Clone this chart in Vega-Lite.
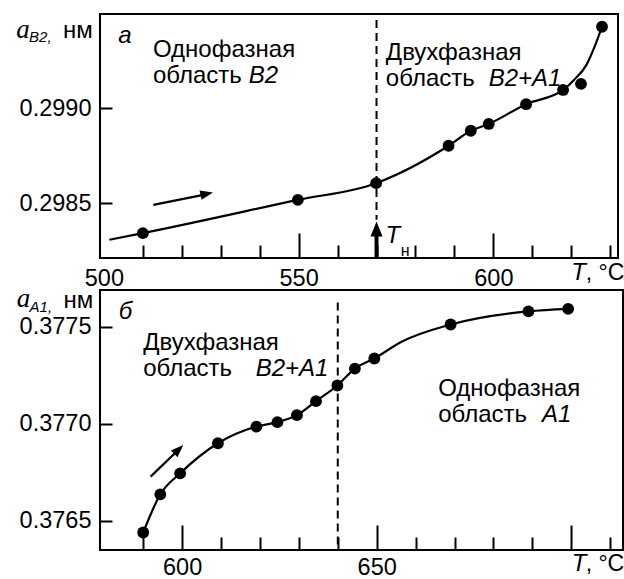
{
  "$schema": "https://vega.github.io/schema/vega-lite/v6.json",
  "padding": {"left": 15, "top": 13, "right": 0, "bottom": 2},
  "background": "white",
  "config": {
    "view": {"stroke": "black", "strokeWidth": 2},
    "axis": {"domain": false, "grid": false, "labelFont": "Liberation Sans", "labelFontSize": 23.5, "labelColor": "black", "tickColor": "black", "tickWidth": 2, "labelOverlap": false, "title": null},
    "text": {"font": "Liberation Sans", "fontSize": 24, "align": "left", "baseline": "alphabetic", "color": "black"}
  },
  "spacing": 32,
  "bounds": "flush",
  "vconcat": [
    {
      "width": 518,
      "height": 244,
      "layer": [
        {
          "data": {"values": [
            {"T": 501.4, "a": 0.298307}, {"T": 510, "a": 0.298342}, {"T": 549.8, "a": 0.298517},
            {"T": 569.9, "a": 0.298605}, {"T": 588.5, "a": 0.298802}, {"T": 594.2, "a": 0.298881},
            {"T": 598.8, "a": 0.298917}, {"T": 608.4, "a": 0.299021}, {"T": 617.9, "a": 0.299096},
            {"T": 620.7, "a": 0.299149}, {"T": 623.9, "a": 0.299228}, {"T": 626.0, "a": 0.299324},
            {"T": 627.9, "a": 0.299429}
          ]},
          "mark": {"type": "line", "interpolate": "monotone", "color": "black", "strokeWidth": 2.2},
          "encoding": {
            "x": {"field": "T", "type": "quantitative", "title": null,
              "scale": {"domain": [499, 632], "nice": false, "zero": false},
              "axis": {"orient": "bottom", "values": [500, 510, 520, 530, 540, 550, 560, 570, 580, 590, 600, 610, 620, 630],
                "tickCount": 30,
                "tickSize": {"condition": {"test": "datum.value % 50 === 0", "value": -25}, "value": -13},
                "tickOpacity": {"condition": {"test": "datum.value === 500", "value": 0}, "value": 1},
                "labelOpacity": {"condition": {"test": "datum.value % 50 === 0", "value": 1}, "value": 0},
                "labelOverlap": false, "labelFlush": false, "labelBound": false,
                "labelPadding": 33, "title": null}},
            "y": {"field": "a", "type": "quantitative", "title": null,
              "scale": {"domain": [0.298211, 0.299496], "nice": false, "zero": false},
              "axis": {"values": [0.2985, 0.299], "format": ".4f", "tickSize": -12, "labelPadding": 21, "labelOverlap": false, "title": null}}
          }
        },
        {
          "data": {"values": [
            {"T": 510, "a": 0.298342}, {"T": 549.8, "a": 0.298517}, {"T": 569.9, "a": 0.298605},
            {"T": 588.5, "a": 0.298802}, {"T": 594.2, "a": 0.298881}, {"T": 598.8, "a": 0.298917},
            {"T": 608.4, "a": 0.299021}, {"T": 617.9, "a": 0.299096}, {"T": 622.5, "a": 0.299128},
            {"T": 627.9, "a": 0.299429}
          ]},
          "mark": {"type": "point", "filled": true, "shape": "circle", "size": 140, "color": "black", "opacity": 1},
          "encoding": {"x": {"field": "T", "type": "quantitative"}, "y": {"field": "a", "type": "quantitative"}}
        },
        {
          "data": {"values": [{"T": 570, "a": 0.299465, "a2": 0.298412}]},
          "mark": {"type": "rule", "color": "black", "strokeWidth": 2, "strokeDash": [8, 5]},
          "encoding": {"x": {"field": "T", "type": "quantitative"}, "y": {"field": "a", "type": "quantitative"}, "y2": {"field": "a2"}}
        },
        {
          "data": {"values": [{"T": 512.7, "a": 0.298491, "T2": 526.5, "a2": 0.298547}]},
          "mark": {"type": "rule", "color": "black", "strokeWidth": 2.2},
          "encoding": {"x": {"field": "T", "type": "quantitative"}, "y": {"field": "a", "type": "quantitative"}, "x2": {"field": "T2"}, "y2": {"field": "a2"}}
        },
        {
          "data": {"values": [{"T": 528.0, "a": 0.298556}]},
          "mark": {"type": "point", "filled": true, "shape": "M0,0 L-2,-0.75 L-2,0.75 Z", "size": 160, "angle": 348, "color": "black", "opacity": 1},
          "encoding": {"x": {"field": "T", "type": "quantitative"}, "y": {"field": "a", "type": "quantitative"}}
        },
        {
          "data": {"values": [{"T": 570, "a": 0.298211, "a2": 0.298345}]},
          "mark": {"type": "rule", "color": "black", "strokeWidth": 4},
          "encoding": {"x": {"field": "T", "type": "quantitative"}, "y": {"field": "a", "type": "quantitative"}, "y2": {"field": "a2"}}
        },
        {
          "data": {"values": [{"T": 570, "a": 0.298403}]},
          "mark": {"type": "point", "filled": true, "shape": "M0,0 L-2,-0.8 L-2,0.8 Z", "size": 225, "angle": 270, "color": "black", "opacity": 1},
          "encoding": {"x": {"field": "T", "type": "quantitative"}, "y": {"field": "a", "type": "quantitative"}}
        },
        {
          "data": {"values": [
            {"T": 512.6, "a": 0.29927, "text": "Однофазная"},
            {"T": 512.6, "a": 0.299133, "text": "область"},
            {"T": 572.4, "a": 0.299254, "text": "Двухфазная"},
            {"T": 572.4, "a": 0.299117, "text": "область"},
            {"T": 489.5, "a": 0.299368, "text": "нм"}
          ]},
          "mark": {"type": "text"},
          "encoding": {"x": {"field": "T", "type": "quantitative"}, "y": {"field": "a", "type": "quantitative"}, "text": {"field": "text"}}
        },
        {
          "data": {"values": [{"T": 623.7, "a": 0.298096, "text": ", °C"}]},
          "mark": {"type": "text", "fontSize": 23},
          "encoding": {"x": {"field": "T", "type": "quantitative"}, "y": {"field": "a", "type": "quantitative"}, "text": {"field": "text"}}
        },
        {
          "data": {"values": [
            {"T": 537.2, "a": 0.299133, "text": "B2"},
            {"T": 598.8, "a": 0.299117, "text": "B2+A1"},
            {"T": 503.7, "a": 0.299344, "text": "а"},
            {"T": 620.0, "a": 0.298096, "text": "T"},
            {"T": 572.3, "a": 0.298291, "text": "T"}
          ]},
          "mark": {"type": "text", "fontStyle": "italic"},
          "encoding": {"x": {"field": "T", "type": "quantitative"}, "y": {"field": "a", "type": "quantitative"}, "text": {"field": "text"}}
        },
        {
          "data": {"values": [{"T": 576.2, "a": 0.29822, "text": "н"}]},
          "mark": {"type": "text", "fontSize": 16},
          "encoding": {"x": {"field": "T", "type": "quantitative"}, "y": {"field": "a", "type": "quantitative"}, "text": {"field": "text"}}
        },
        {
          "data": {"values": [{"T": 477.5, "a": 0.299368, "text": "a"}]},
          "mark": {"type": "text", "font": "Liberation Serif", "fontStyle": "italic", "fontSize": 27},
          "encoding": {"x": {"field": "T", "type": "quantitative"}, "y": {"field": "a", "type": "quantitative"}, "text": {"field": "text"}}
        },
        {
          "data": {"values": [{"T": 480.8, "a": 0.299349, "text": "B2,"}]},
          "mark": {"type": "text", "fontStyle": "italic", "fontSize": 15},
          "encoding": {"x": {"field": "T", "type": "quantitative"}, "y": {"field": "a", "type": "quantitative"}, "text": {"field": "text"}}
        }
      ]
    },
    {
      "width": 523,
      "height": 260,
      "layer": [
        {
          "data": {"values": [
            {"T": 590, "a": 0.376439}, {"T": 594.4, "a": 0.376636}, {"T": 599.5, "a": 0.376744},
            {"T": 609.2, "a": 0.376899}, {"T": 619.1, "a": 0.376985}, {"T": 624.5, "a": 0.377008},
            {"T": 629.5, "a": 0.377044}, {"T": 634.4, "a": 0.377116}, {"T": 639.9, "a": 0.377197},
            {"T": 644.4, "a": 0.377284}, {"T": 649.4, "a": 0.377336}, {"T": 656.4, "a": 0.377422},
            {"T": 669.0, "a": 0.377511}, {"T": 689.0, "a": 0.377579}, {"T": 699.2, "a": 0.377592}
          ]},
          "mark": {"type": "line", "interpolate": "monotone", "color": "black", "strokeWidth": 2.2},
          "encoding": {
            "x": {"field": "T", "type": "quantitative", "title": null,
              "scale": {"domain": [578.9, 713.3], "nice": false, "zero": false},
              "axis": {"orient": "bottom", "values": [590, 600, 610, 620, 630, 640, 650, 660, 670, 680, 690, 700, 710],
                "tickCount": 30,
                "tickSize": {"condition": {"test": "datum.value % 50 === 0", "value": -25}, "value": -13},
                "labelOpacity": {"condition": {"test": "datum.value === 600 || datum.value === 650", "value": 1}, "value": 0},
                "labelOverlap": false, "labelFlush": false, "labelBound": false,
                "labelPadding": 30, "title": null}},
            "y": {"field": "a", "type": "quantitative", "title": null,
              "scale": {"domain": [0.376349, 0.377689], "nice": false, "zero": false},
              "axis": {"values": [0.3765, 0.377, 0.3775], "format": ".4f", "tickSize": -12, "labelPadding": 21, "labelOverlap": false, "title": null}}
          }
        },
        {
          "data": {"values": [
            {"T": 590, "a": 0.376439}, {"T": 594.4, "a": 0.376636}, {"T": 599.5, "a": 0.376744},
            {"T": 609.2, "a": 0.376899}, {"T": 619.1, "a": 0.376985}, {"T": 624.5, "a": 0.377008},
            {"T": 629.5, "a": 0.377044}, {"T": 634.4, "a": 0.377116}, {"T": 639.9, "a": 0.377197},
            {"T": 644.4, "a": 0.377284}, {"T": 649.4, "a": 0.377336}, {"T": 669.0, "a": 0.377511},
            {"T": 689.0, "a": 0.377579}, {"T": 699.2, "a": 0.377592}
          ]},
          "mark": {"type": "point", "filled": true, "shape": "circle", "size": 140, "color": "black", "opacity": 1},
          "encoding": {"x": {"field": "T", "type": "quantitative"}, "y": {"field": "a", "type": "quantitative"}}
        },
        {
          "data": {"values": [{"T": 640, "a": 0.377624, "a2": 0.376349}]},
          "mark": {"type": "rule", "color": "black", "strokeWidth": 2, "strokeDash": [8, 5]},
          "encoding": {"x": {"field": "T", "type": "quantitative"}, "y": {"field": "a", "type": "quantitative"}, "y2": {"field": "a2"}}
        },
        {
          "data": {"values": [{"T": 591.9, "a": 0.376727, "T2": 599.4, "a2": 0.376872}]},
          "mark": {"type": "rule", "color": "black", "strokeWidth": 2.2},
          "encoding": {"x": {"field": "T", "type": "quantitative"}, "y": {"field": "a", "type": "quantitative"}, "x2": {"field": "T2"}, "y2": {"field": "a2"}}
        },
        {
          "data": {"values": [{"T": 600.3, "a": 0.37689}]},
          "mark": {"type": "point", "filled": true, "shape": "M0,0 L-2,-0.75 L-2,0.75 Z", "size": 160, "angle": 316, "color": "black", "opacity": 1},
          "encoding": {"x": {"field": "T", "type": "quantitative"}, "y": {"field": "a", "type": "quantitative"}}
        },
        {
          "data": {"values": [
            {"T": 590, "a": 0.377382, "text": "Двухфазная"},
            {"T": 590, "a": 0.377248, "text": "область"},
            {"T": 665.8, "a": 0.377142, "text": "Однофазная"},
            {"T": 665.8, "a": 0.377007, "text": "область"},
            {"T": 569.5, "a": 0.377598, "text": "нм"}
          ]},
          "mark": {"type": "text"},
          "encoding": {"x": {"field": "T", "type": "quantitative"}, "y": {"field": "a", "type": "quantitative"}, "text": {"field": "text"}}
        },
        {
          "data": {"values": [{"T": 703.7, "a": 0.37624, "text": ", °C"}]},
          "mark": {"type": "text", "fontSize": 23},
          "encoding": {"x": {"field": "T", "type": "quantitative"}, "y": {"field": "a", "type": "quantitative"}, "text": {"field": "text"}}
        },
        {
          "data": {"values": [
            {"T": 618.9, "a": 0.377248, "text": "B2+A1"},
            {"T": 692.5, "a": 0.377007, "text": "A1"},
            {"T": 583.7, "a": 0.377537, "text": "б"},
            {"T": 700.1, "a": 0.37624, "text": "T"}
          ]},
          "mark": {"type": "text", "fontStyle": "italic"},
          "encoding": {"x": {"field": "T", "type": "quantitative"}, "y": {"field": "a", "type": "quantitative"}, "text": {"field": "text"}}
        },
        {
          "data": {"values": [{"T": 557.5, "a": 0.377603, "text": "a"}]},
          "mark": {"type": "text", "font": "Liberation Serif", "fontStyle": "italic", "fontSize": 27},
          "encoding": {"x": {"field": "T", "type": "quantitative"}, "y": {"field": "a", "type": "quantitative"}, "text": {"field": "text"}}
        },
        {
          "data": {"values": [{"T": 560.8, "a": 0.377578, "text": "A1,"}]},
          "mark": {"type": "text", "fontStyle": "italic", "fontSize": 15},
          "encoding": {"x": {"field": "T", "type": "quantitative"}, "y": {"field": "a", "type": "quantitative"}, "text": {"field": "text"}}
        }
      ]
    }
  ]
}
